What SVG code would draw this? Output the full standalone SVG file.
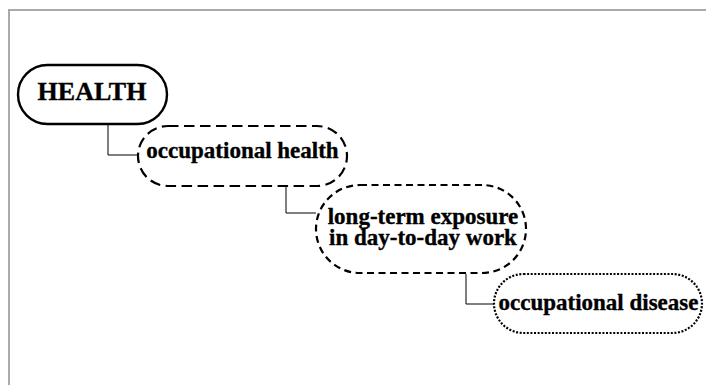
<svg xmlns="http://www.w3.org/2000/svg" width="706" height="385" viewBox="0 0 706 385">
<style>
.node rect{fill:#fff;stroke:#000;stroke-width:2.2}
.solid rect{stroke-width:2.4}
.dash1 rect{stroke-dasharray:10.5 5.5}
.dash2 rect{stroke-dasharray:7 4.5}
.dot rect{stroke-dasharray:2 1.6}
text{font-family:"Liberation Serif","Times New Roman",serif;font-weight:bold;fill:#000;stroke:#000;stroke-width:0.35;text-anchor:middle}
.conn path{fill:none;stroke:#000;stroke-width:1}
</style>
<rect x="0" y="0" width="706" height="385" fill="#fff"/>
<rect x="9" y="10" width="800" height="500" fill="none" stroke="#aaaaaa" stroke-width="2"/>
<g id="connectors" class="conn">
<path d="M108 124V155H138"/>
<path d="M286 186V213H316"/>
<path d="M466 274V304H494"/>
</g>
<g id="health" class="node solid">
<rect x="18" y="65" width="149" height="59" rx="29.5"/>
<text x="92" y="100" font-size="26">HEALTH</text>
</g>
<g id="occupational-health" class="node dash1">
<rect x="138" y="126" width="209" height="60" rx="30"/>
<text x="242.5" y="158" font-size="23">occupational health</text>
</g>
<g id="long-term-exposure" class="node dash2">
<rect x="316" y="185" width="210" height="88" rx="44"/>
<text x="423" y="224" font-size="23">long-term exposure</text>
<text x="423" y="245" font-size="23">in day-to-day work</text>
</g>
<g id="occupational-disease" class="node dot">
<rect x="494" y="274" width="208" height="59" rx="29.5"/>
<text x="598.5" y="310" font-size="23">occupational disease</text>
</g>
</svg>
